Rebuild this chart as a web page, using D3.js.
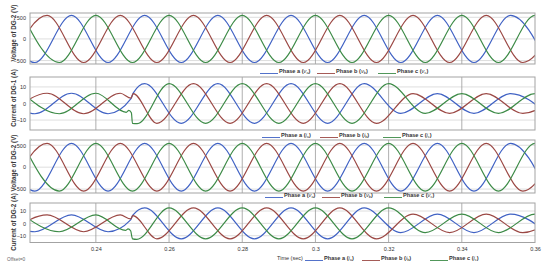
<!DOCTYPE html>
<html>
<head>
<meta charset="utf-8">
<script src="https://cdn.jsdelivr.net/npm/d3@7"></script>
<style>
  html, body { margin: 0; padding: 0; background: #fff; }
  svg { display: block; font-family: 'Liberation Sans', Arial, sans-serif; }
</style>
</head>
<body>
<div id="visual"></div>
<script>
const width = 550,
      height = 268;

// time axis (sec)
const tDomain = [0.222, 0.36];
const xTicks = [0.24, 0.26, 0.28, 0.30, 0.32, 0.34, 0.36];
const voltTicks = [500, 0, -500];
const currTicks = [10, 0, -10];

// each waveform is stored as its successive peaks / troughs,
// one every half period (50 Hz), starting at firstExtremum[phase]
const halfPeriod = 0.01;
const firstExtremum = [0.21333, 0.21667, 0.22]; // phase a, b, c

const phaseNames = ['Phase a', 'Phase b', 'Phase c'];
const phaseSubs = ['a', 'b', 'c'];

// Voltage of DG-2 (V)
const vDG2A = [545, -545, 545, -545, 545, -545, 545, -545, 545, -545, 545, -545, 545, -545, 545, -545];
const vDG2B = [-545, 545, -545, 545, -545, 545, -545, 545, -545, 545, -545, 545, -545, 545, -545, 545];
const vDG2C = [545, -545, 545, -545, 545, -545, 545, -545, 545, -545, 545, -545, 545, -545, 545, -545];

// Current of DG-1 (A)
const iDG1A = [6.2, -6.2, 6.2, -6.2, 12, -12, 12, -12, 12, -12, 12, -6, 6, -6, 6, -6];
const iDG1B = [-6.2, 6.2, -6.2, 6.2, -12, 12, -12, 12, -12, 12, -12, 6, -6, 6, -6, 6];
const iDG1C = [6.2, -6.2, 6.2, -12, 12, -12, 12, -12, 12, -12, 12, -6, 6, -6, 6, -6];
// load step at t = 0.25 s
const iDG1StepA = [[0.2496, 2.9], [0.2502, 6.3]];
const iDG1StepB = [[0.2496, 3.3], [0.2502, 6.0]];
const iDG1StepC = [[0.2483, -5.3], [0.2490, -4.2], [0.2497, -5.6], [0.2513, -12.2]];

// Current of DG-2 (A)
const iDG2A = [6.8, -6.8, 6.8, -6.8, 12.5, -12.5, 12.5, -12.5, 12.5, -12.5, 12.5, -7.5, 7.5, -7.5, 7.5, -7.5];
const iDG2B = [-6.8, 6.8, -6.8, 6.8, -12.5, 12.5, -12.5, 12.5, -12.5, 12.5, -12.5, 7.5, -7.5, 7.5, -7.5, 7.5];
const iDG2C = [6.8, -6.8, 6.8, -12.5, 12.5, -12.5, 12.5, -12.5, 12.5, -12.5, 12.5, -7.5, 7.5, -7.5, 7.5, -7.5];
const iDG2StepA = [[0.2495, 2.8], [0.2501, 6.6]];
const iDG2StepB = [[0.2495, 3.6], [0.2501, 6.2]];
const iDG2StepC = [[0.2481, -5.7], [0.2488, -4.5], [0.2495, -6.0], [0.2512, -12.9]];

const colors = ['#4062c4', '#9b4844', '#3d8b47'];

const toPoints = (phase, peaks, extra) => peaks
  .map((v, i) => [firstExtremum[phase] + i * halfPeriod, v])
  .concat(extra || [])
  .sort((p, q) => p[0] - q[0]);

const panels = [
  { top: 13, bottom: 64, domain: [-580, 600], ticks: voltTicks, label: 'Voltage of DG-2 (V)', labelY: 33,
    series: [toPoints(0, vDG2A), toPoints(1, vDG2B), toPoints(2, vDG2C)] },
  { top: 77, bottom: 130, domain: [-16, 16], ticks: currTicks, label: 'Current of DG-1 (A)', labelY: 98,
    series: [toPoints(0, iDG1A, iDG1StepA), toPoints(1, iDG1B, iDG1StepB), toPoints(2, iDG1C, iDG1StepC)] },
  { top: 140, bottom: 193, domain: [-590, 620], ticks: voltTicks, label: 'Voltage of DG-2 (V)', labelY: 163,
    series: [toPoints(0, vDG2A), toPoints(1, vDG2B), toPoints(2, vDG2C)] },
  { top: 203, bottom: 242.5, domain: [-15.5, 16.5], ticks: currTicks, label: 'Current of DG-2 (A)', labelY: 222,
    series: [toPoints(0, iDG2A, iDG2StepA), toPoints(1, iDG2B, iDG2StepB), toPoints(2, iDG2C, iDG2StepC)] }
];

const legendRows = [
  { y: 73, sym: 'v', lineX: [260, 317, 378] },
  { y: 137, sym: 'i', lineX: [262, 320, 383] },
  { y: 197, sym: 'v', lineX: [265, 322, 384] },
  { y: 260, sym: 'i', lineX: [305, 362, 430], prefix: 'Time (sec)', prefixX: 277 }
];

const svg = d3.select('#visual').append('svg').attr('width', width).attr('height', height);

const x = d3.scaleLinear().domain(tDomain).range([30, 535]);

panels.forEach((p, k) => {
  const y = d3.scaleLinear().domain(p.domain).range([p.bottom, p.top]);
  const g = svg.append('g');

  svg.append('clipPath').attr('id', 'clip' + k)
    .append('rect')
    .attr('x', x.range()[0]).attr('y', p.top)
    .attr('width', x.range()[1] - x.range()[0]).attr('height', p.bottom - p.top);

  // grid
  g.selectAll('.hgrid').data(p.ticks).join('line')
    .attr('x1', x.range()[0]).attr('x2', x.range()[1])
    .attr('y1', d => y(d)).attr('y2', d => y(d))
    .attr('stroke', '#d6d6d6').attr('stroke-width', 0.8);

  g.selectAll('.vgrid').data(xTicks.filter(t => t < tDomain[1])).join('line')
    .attr('x1', d => x(d)).attr('x2', d => x(d))
    .attr('y1', p.top).attr('y2', p.bottom)
    .attr('stroke', '#9a9a9a').attr('stroke-width', 0.8);

  // waveforms
  const line = d3.line()
    .x(d => x(d[0]))
    .y(d => y(d[1]))
    .curve(d3.curveMonotoneX);

  g.append('g').attr('clip-path', `url(#clip${k})`)
    .selectAll('path').data(p.series).join('path')
    .attr('d', line)
    .attr('fill', 'none')
    .attr('stroke', (d, i) => colors[i])
    .attr('stroke-width', 1.2);

  // frame
  g.append('rect')
    .attr('x', x.range()[0]).attr('y', p.top)
    .attr('width', x.range()[1] - x.range()[0]).attr('height', p.bottom - p.top)
    .attr('fill', 'none').attr('stroke', '#a3a3a3').attr('stroke-width', 1);

  // y axis
  const ax = g.append('g')
    .attr('transform', `translate(${x.range()[0]},0)`)
    .call(d3.axisLeft(y).tickValues(p.ticks).tickSize(0).tickPadding(4));
  ax.select('.domain').remove();
  ax.selectAll('text').attr('font-size', 5.5).attr('fill', '#333');

  g.append('text')
    .attr('transform', `translate(13,${p.labelY}) rotate(-90)`)
    .attr('text-anchor', 'middle')
    .attr('dominant-baseline', 'central')
    .attr('font-size', 6.3)
    .attr('font-weight', 'bold')
    .attr('fill', '#3a3a3a')
    .text(p.label);

  // time labels only under the last panel
  if (k === panels.length - 1) {
    const xa = g.append('g')
      .attr('transform', `translate(0,${p.bottom})`)
      .call(d3.axisBottom(x).tickValues(xTicks).tickSize(0).tickPadding(5)
        .tickFormat(d => String(+d.toFixed(2))));
    xa.select('.domain').remove();
    xa.selectAll('text').attr('font-size', 5.5).attr('fill', '#333');
  }
});

// legends
legendRows.forEach(row => {
  const lg = svg.append('g');
  if (row.prefix) {
    lg.append('text').attr('x', row.prefixX).attr('y', row.y)
      .attr('font-size', 5.5).attr('fill', '#333').text(row.prefix);
  }
  row.lineX.forEach((lx, i) => {
    lg.append('line')
      .attr('x1', lx).attr('x2', lx + 18)
      .attr('y1', row.y + 0.5).attr('y2', row.y + 0.5)
      .attr('stroke', colors[i]).attr('stroke-width', 0.9);
    const t = lg.append('text')
      .attr('x', lx + 19).attr('y', row.y)
      .attr('font-size', 5.6).attr('font-weight', 'bold').attr('fill', '#333');
    t.append('tspan').text(phaseNames[i] + ' (');
    t.append('tspan').attr('font-style', 'italic').attr('font-weight', 'normal').text(row.sym);
    t.append('tspan').attr('font-size', 4).attr('dy', 1).attr('font-weight', 'normal').text(phaseSubs[i]);
    t.append('tspan').attr('dy', -1).text(')');
  });
});

svg.append('text').attr('x', 7).attr('y', 261)
  .attr('font-size', 4.8).attr('fill', '#666').text('Offset=0');
</script>
</body>
</html>
